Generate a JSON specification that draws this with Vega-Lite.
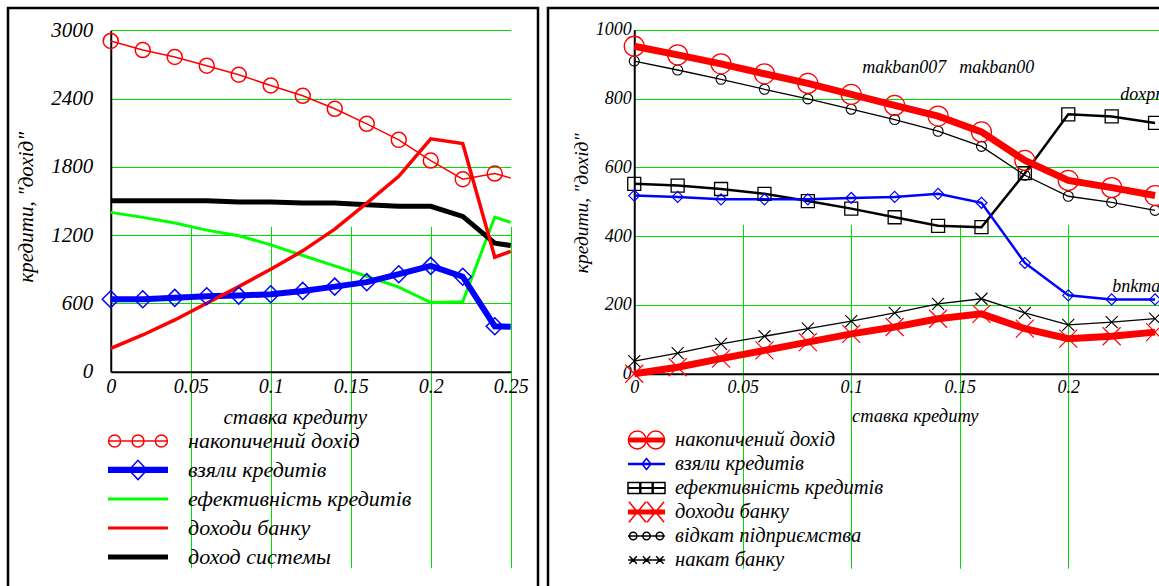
{
  "$schema": "https://vega.github.io/schema/vega-lite/v6.json",
  "padding": {"left": 6, "top": 6, "right": 0, "bottom": 0},
  "background": "white",
  "spacing": 6,
  "config": {
    "view": {"stroke": "black", "strokeWidth": 2.5},
    "axis": {"grid": false, "gridColor": "#00e000", "gridWidth": 1, "gridOpacity": 1, "domainColor": "black", "domainWidth": 2, "ticks": false, "labelFont": "Liberation Serif", "labelFontStyle": "italic", "labelColor": "black", "titleFont": "Liberation Serif", "titleFontStyle": "italic", "titleFontWeight": "normal", "titleColor": "black", "labelFlush": false, "labelOverlap": false},
    "legend": {"orient": "none", "title": null, "direction": "vertical", "padding": 0, "labelFont": "Liberation Serif", "labelFontStyle": "italic", "labelColor": "black", "labelLimit": 500, "symbolOpacity": 1},
    "text": {"font": "Liberation Serif", "fontStyle": "italic"}
  },
  "resolve": {"scale": {"x": "independent", "y": "independent", "color": "independent"}},
  "datasets": {
    "L": [
      {"s": "накопичений дохід", "x": 0, "y": 2906}, {"s": "накопичений дохід", "x": 0.02, "y": 2826}, {"s": "накопичений дохід", "x": 0.04, "y": 2765}, {"s": "накопичений дохід", "x": 0.06, "y": 2689}, {"s": "накопичений дохід", "x": 0.08, "y": 2609}, {"s": "накопичений дохід", "x": 0.1, "y": 2515}, {"s": "накопичений дохід", "x": 0.12, "y": 2424}, {"s": "накопичений дохід", "x": 0.14, "y": 2310}, {"s": "накопичений дохід", "x": 0.16, "y": 2178}, {"s": "накопичений дохід", "x": 0.18, "y": 2037}, {"s": "накопичений дохід", "x": 0.2, "y": 1855}, {"s": "накопичений дохід", "x": 0.22, "y": 1691}, {"s": "накопичений дохід", "x": 0.24, "y": 1741}, {"s": "накопичений дохід", "x": 0.25, "y": 1702},
      {"s": "взяли кредитів", "x": 0, "y": 637}, {"s": "взяли кредитів", "x": 0.02, "y": 637}, {"s": "взяли кредитів", "x": 0.04, "y": 649}, {"s": "взяли кредитів", "x": 0.06, "y": 663}, {"s": "взяли кредитів", "x": 0.08, "y": 669}, {"s": "взяли кредитів", "x": 0.1, "y": 681}, {"s": "взяли кредитів", "x": 0.12, "y": 710}, {"s": "взяли кредитів", "x": 0.14, "y": 748}, {"s": "взяли кредитів", "x": 0.16, "y": 787}, {"s": "взяли кредитів", "x": 0.18, "y": 857}, {"s": "взяли кредитів", "x": 0.2, "y": 930}, {"s": "взяли кредитів", "x": 0.22, "y": 835}, {"s": "взяли кредитів", "x": 0.24, "y": 400}, {"s": "взяли кредитів", "x": 0.25, "y": 396},
      {"s": "ефективність кредитів", "x": 0, "y": 1400}, {"s": "ефективність кредитів", "x": 0.02, "y": 1356}, {"s": "ефективність кредитів", "x": 0.04, "y": 1306}, {"s": "ефективність кредитів", "x": 0.06, "y": 1244}, {"s": "ефективність кредитів", "x": 0.08, "y": 1195}, {"s": "ефективність кредитів", "x": 0.1, "y": 1115}, {"s": "ефективність кредитів", "x": 0.12, "y": 1021}, {"s": "ефективність кредитів", "x": 0.14, "y": 930}, {"s": "ефективність кредитів", "x": 0.16, "y": 839}, {"s": "ефективність кредитів", "x": 0.18, "y": 743}, {"s": "ефективність кредитів", "x": 0.2, "y": 608}, {"s": "ефективність кредитів", "x": 0.22, "y": 616}, {"s": "ефективність кредитів", "x": 0.24, "y": 1359}, {"s": "ефективність кредитів", "x": 0.25, "y": 1312},
      {"s": "доходи банку", "x": 0, "y": 205}, {"s": "доходи банку", "x": 0.02, "y": 323}, {"s": "доходи банку", "x": 0.04, "y": 455}, {"s": "доходи банку", "x": 0.06, "y": 602}, {"s": "доходи банку", "x": 0.08, "y": 748}, {"s": "доходи банку", "x": 0.1, "y": 901}, {"s": "доходи банку", "x": 0.12, "y": 1062}, {"s": "доходи банку", "x": 0.14, "y": 1253}, {"s": "доходи банку", "x": 0.16, "y": 1482}, {"s": "доходи банку", "x": 0.18, "y": 1717}, {"s": "доходи банку", "x": 0.2, "y": 2046}, {"s": "доходи банку", "x": 0.22, "y": 2005}, {"s": "доходи банку", "x": 0.24, "y": 1007}, {"s": "доходи банку", "x": 0.25, "y": 1057},
      {"s": "доход системы", "x": 0, "y": 1503}, {"s": "доход системы", "x": 0.02, "y": 1503}, {"s": "доход системы", "x": 0.04, "y": 1503}, {"s": "доход системы", "x": 0.06, "y": 1503}, {"s": "доход системы", "x": 0.08, "y": 1491}, {"s": "доход системы", "x": 0.1, "y": 1491}, {"s": "доход системы", "x": 0.12, "y": 1482}, {"s": "доход системы", "x": 0.14, "y": 1482}, {"s": "доход системы", "x": 0.16, "y": 1468}, {"s": "доход системы", "x": 0.18, "y": 1453}, {"s": "доход системы", "x": 0.2, "y": 1453}, {"s": "доход системы", "x": 0.22, "y": 1365}, {"s": "доход системы", "x": 0.24, "y": 1130}, {"s": "доход системы", "x": 0.25, "y": 1109}
    ],
    "R": [
      {"s": "накопичений дохід", "x": 0, "y": 952}, {"s": "накопичений дохід", "x": 0.02, "y": 927}, {"s": "накопичений дохід", "x": 0.04, "y": 901}, {"s": "накопичений дохід", "x": 0.06, "y": 872}, {"s": "накопичений дохід", "x": 0.08, "y": 844}, {"s": "накопичений дохід", "x": 0.1, "y": 812}, {"s": "накопичений дохід", "x": 0.12, "y": 780}, {"s": "накопичений дохід", "x": 0.14, "y": 749}, {"s": "накопичений дохід", "x": 0.16, "y": 703}, {"s": "накопичений дохід", "x": 0.18, "y": 620}, {"s": "накопичений дохід", "x": 0.2, "y": 562}, {"s": "накопичений дохід", "x": 0.22, "y": 541}, {"s": "накопичений дохід", "x": 0.24, "y": 518},
      {"s": "взяли кредитів", "x": 0, "y": 518}, {"s": "взяли кредитів", "x": 0.02, "y": 514}, {"s": "взяли кредитів", "x": 0.04, "y": 507}, {"s": "взяли кредитів", "x": 0.06, "y": 507}, {"s": "взяли кредитів", "x": 0.08, "y": 507}, {"s": "взяли кредитів", "x": 0.1, "y": 511}, {"s": "взяли кредитів", "x": 0.12, "y": 514}, {"s": "взяли кредитів", "x": 0.14, "y": 523}, {"s": "взяли кредитів", "x": 0.16, "y": 497}, {"s": "взяли кредитів", "x": 0.18, "y": 322}, {"s": "взяли кредитів", "x": 0.2, "y": 228}, {"s": "взяли кредитів", "x": 0.22, "y": 216}, {"s": "взяли кредитів", "x": 0.24, "y": 216},
      {"s": "ефективність кредитів", "x": 0, "y": 552}, {"s": "ефективність кредитів", "x": 0.02, "y": 547}, {"s": "ефективність кредитів", "x": 0.04, "y": 537}, {"s": "ефективність кредитів", "x": 0.06, "y": 523}, {"s": "ефективність кредитів", "x": 0.08, "y": 502}, {"s": "ефективність кредитів", "x": 0.1, "y": 480}, {"s": "ефективність кредитів", "x": 0.12, "y": 455}, {"s": "ефективність кредитів", "x": 0.14, "y": 430}, {"s": "ефективність кредитів", "x": 0.16, "y": 426}, {"s": "ефективність кредитів", "x": 0.18, "y": 583}, {"s": "ефективність кредитів", "x": 0.2, "y": 754}, {"s": "ефективність кредитів", "x": 0.22, "y": 748}, {"s": "ефективність кредитів", "x": 0.24, "y": 729},
      {"s": "доходи банку", "x": 0, "y": 0}, {"s": "доходи банку", "x": 0.02, "y": 19}, {"s": "доходи банку", "x": 0.04, "y": 44}, {"s": "доходи банку", "x": 0.06, "y": 68}, {"s": "доходи банку", "x": 0.08, "y": 92}, {"s": "доходи банку", "x": 0.1, "y": 116}, {"s": "доходи банку", "x": 0.12, "y": 136}, {"s": "доходи банку", "x": 0.14, "y": 160}, {"s": "доходи банку", "x": 0.16, "y": 174}, {"s": "доходи банку", "x": 0.18, "y": 131}, {"s": "доходи банку", "x": 0.2, "y": 102}, {"s": "доходи банку", "x": 0.22, "y": 109}, {"s": "доходи банку", "x": 0.24, "y": 121},
      {"s": "відкат підприємства", "x": 0, "y": 909}, {"s": "відкат підприємства", "x": 0.02, "y": 883}, {"s": "відкат підприємства", "x": 0.04, "y": 856}, {"s": "відкат підприємства", "x": 0.06, "y": 827}, {"s": "відкат підприємства", "x": 0.08, "y": 799}, {"s": "відкат підприємства", "x": 0.1, "y": 769}, {"s": "відкат підприємства", "x": 0.12, "y": 739}, {"s": "відкат підприємства", "x": 0.14, "y": 705}, {"s": "відкат підприємства", "x": 0.16, "y": 661}, {"s": "відкат підприємства", "x": 0.18, "y": 577}, {"s": "відкат підприємства", "x": 0.2, "y": 516}, {"s": "відкат підприємства", "x": 0.22, "y": 498}, {"s": "відкат підприємства", "x": 0.24, "y": 475},
      {"s": "накат банку", "x": 0, "y": 37}, {"s": "накат банку", "x": 0.02, "y": 60}, {"s": "накат банку", "x": 0.04, "y": 87}, {"s": "накат банку", "x": 0.06, "y": 109}, {"s": "накат банку", "x": 0.08, "y": 131}, {"s": "накат банку", "x": 0.1, "y": 153}, {"s": "накат банку", "x": 0.12, "y": 177}, {"s": "накат банку", "x": 0.14, "y": 203}, {"s": "накат банку", "x": 0.16, "y": 218}, {"s": "накат банку", "x": 0.18, "y": 177}, {"s": "накат банку", "x": 0.2, "y": 142}, {"s": "накат банку", "x": 0.22, "y": 150}, {"s": "накат банку", "x": 0.24, "y": 160}
    ],
    "VM": [{"v": 0.12}, {"v": 0.16}],
    "HM": [{"v": 741}, {"v": 174}],
    "ANN": [
      {"t": "makban007", "x": 0.1051, "y": 889},
      {"t": "makban00", "x": 0.1498, "y": 889},
      {"t": "doxpred", "x": 0.224, "y": 810},
      {"t": "bnkmax", "x": 0.2203, "y": 251}
    ]
  },
  "hconcat": [
    {
      "width": 530,
      "height": 582,
      "data": {"name": "L"},
      "resolve": {"scale": {"x": "independent", "y": "independent"}, "axis": {"x": "independent", "y": "independent"}},
      "layer": [
        {"transform": [{"filter": "datum.s === 'ефективність кредитів'"}], "mark": {"type": "line", "strokeWidth": 3, "color": "#00ff00"},
          "encoding": {
            "x": {"field": "x", "type": "quantitative", "scale": {"domain": [0, 0.25], "range": [102.75, 502.75], "nice": false, "zero": false},
              "axis": {"orient": "bottom", "offset": 0, "values": [0.05, 0.1, 0.15, 0.2, 0.25], "grid": true, "gridColor": "#00e000", "gridWidth": 1, "gridOpacity": 1, "labels": false, "domain": false, "ticks": false, "title": null}},
            "y": {"field": "y", "type": "quantitative", "scale": {"domain": [0, 3000], "range": [363.75, 22.25], "nice": false},
              "axis": {"orient": "left", "offset": 0, "values": [600, 1200, 1800, 2400, 3000], "grid": true, "gridColor": "#00e000", "gridWidth": 1, "gridOpacity": 1, "labels": false, "domain": false, "ticks": false, "title": null}}
          }},
        {
          "encoding": {
            "x": {"field": "x", "type": "quantitative", "scale": {"domain": [0, 0.25], "range": [102.75, 502.75], "nice": false, "zero": false},
              "axis": {"orient": "bottom", "values": [0, 0.05, 0.1, 0.15, 0.2, 0.25], "format": "~g", "offset": -218.25, "grid": false, "labelFontSize": 20, "labelPadding": 5, "title": "ставка кредиту", "titleFontSize": 21, "titleX": 286.75, "titleY": 46, "titleBaseline": "middle", "titleAlign": "center"}},
            "y": {"field": "y", "type": "quantitative", "scale": {"domain": [0, 3000], "range": [363.75, 22.25], "nice": false},
              "axis": {"orient": "left", "values": [0, 600, 1200, 1800, 2400, 3000], "format": "d", "offset": -102.75, "grid": false, "labelFontSize": 21, "labelPadding": 18, "title": "кредити, \"дохід\"", "titleFontSize": 21, "titleX": -84, "titleY": 198.75, "titleAngle": 270, "titleBaseline": "middle", "titleAlign": "center"}}
          },
          "layer": [
            {"transform": [{"filter": "datum.s === 'накопичений дохід'"}], "mark": {"type": "line", "strokeWidth": 1.5},
              "encoding": {"color": {"field": "s", "type": "nominal",
                "scale": {"domain": ["накопичений дохід", "взяли кредитів", "ефективність кредитів", "доходи банку", "доход системы"], "range": ["#ff0000", "#0000ff", "#00ff00", "#ff0000", "#000000"]},
                "legend": {"legendX": 99, "legendY": 418.6, "clipHeight": 28.7, "rowPadding": 0, "symbolSize": 3600, "symbolStrokeWidth": 1.5, "labelFontSize": 22, "labelOffset": 19,
                  "encode": {"symbols": {"update": {"fill": {"value": "transparent"}, "strokeWidth": {"value": 1.5}, "opacity": {"value": 1},
                    "shape": {"signal": "datum.value === 'накопичений дохід' ? 'M-1,0H1M-0.58,0A0.2,0.2,0,1,0,-0.98,0A0.2,0.2,0,1,0,-0.58,0M0.2,0A0.2,0.2,0,1,0,-0.2,0A0.2,0.2,0,1,0,0.2,0M0.98,0A0.2,0.2,0,1,0,0.58,0A0.2,0.2,0,1,0,0.98,0' : datum.value === 'взяли кредитів' ? 'M-1,-0.08H1M-1,-0.04H1M-1,0H1M-1,0.04H1M-1,0.08H1M-0.3,0L0,-0.32L0.3,0L0,0.32Z' : datum.value === 'доход системы' ? 'M-1,-0.06H1M-1,-0.02H1M-1,0.02H1M-1,0.06H1' : 'M-1,-0.025H1M-1,0.025H1'"}}}}}}}},
            {"transform": [{"filter": "datum.s === 'доход системы'"}], "mark": {"type": "line", "strokeWidth": 5, "color": "#000000"}},
            {"transform": [{"filter": "datum.s === 'взяли кредитів'"}], "mark": {"type": "line", "strokeWidth": 6, "color": "#0000ff"}},
            {"transform": [{"filter": "datum.s === 'доходи банку'"}], "mark": {"type": "line", "strokeWidth": 3.5, "color": "#ff0000"}},
            {"transform": [{"filter": "datum.s === 'накопичений дохід' && datum.x < 0.245"}], "mark": {"type": "point", "shape": "circle", "size": 225, "filled": false, "strokeWidth": 1.5, "color": "#ff0000", "opacity": 1}},
            {"transform": [{"filter": "datum.s === 'взяли кредитів' && datum.x < 0.245"}], "mark": {"type": "point", "shape": "diamond", "size": 289, "filled": false, "strokeWidth": 1.5, "color": "#0000ff", "opacity": 1}},
            {"data": {"values": [{}]}, "mark": {"type": "rule", "color": "black", "strokeWidth": 2},
              "encoding": {"x": {"datum": 0.25}, "y": {"datum": 0}, "y2": {"datum": 3000}}}
          ]
        }
      ]
    },
    {
      "width": 616,
      "height": 582,
      "data": {"name": "R"},
      "resolve": {"scale": {"x": "independent", "y": "independent"}, "axis": {"x": "independent", "y": "independent"}},
      "layer": [
        {"transform": [{"filter": "datum.s === 'накат банку'"}], "mark": {"type": "line", "strokeWidth": 1.3, "color": "#000000"},
          "encoding": {
            "x": {"field": "x", "type": "quantitative", "scale": {"domain": [0, 0.2425], "range": [86.25, 612.5], "nice": false, "zero": false},
              "axis": {"orient": "bottom", "offset": 0, "values": [0.05, 0.1, 0.15, 0.2], "grid": true, "gridColor": "#00e000", "gridWidth": 1, "gridOpacity": 1, "labels": false, "domain": false, "ticks": false, "title": null}},
            "y": {"field": "y", "type": "quantitative", "scale": {"domain": [0, 1000], "range": [365.75, 21.75], "nice": false},
              "axis": {"orient": "left", "offset": 0, "values": [200, 400, 600, 800, 1000], "grid": true, "gridColor": "#00e000", "gridWidth": 1, "gridOpacity": 1, "labels": false, "domain": false, "ticks": false, "title": null}}
          }},
        {
          "encoding": {
            "x": {"field": "x", "type": "quantitative", "scale": {"domain": [0, 0.2425], "range": [86.25, 612.5], "nice": false, "zero": false},
              "axis": {"orient": "bottom", "values": [0, 0.05, 0.1, 0.15, 0.2], "format": "~g", "offset": -216.25, "grid": false, "labelFontSize": 18, "labelPadding": 5, "title": "ставка кредиту", "titleFontSize": 18.5, "titleX": 366.75, "titleY": 42, "titleBaseline": "middle", "titleAlign": "center"}},
            "y": {"field": "y", "type": "quantitative", "scale": {"domain": [0, 1000], "range": [365.75, 21.75], "nice": false},
              "axis": {"orient": "left", "values": [0, 200, 400, 600, 800, 1000], "format": "d", "offset": -86.25, "grid": false, "labelFontSize": 18, "labelPadding": 3, "title": "кредити, \"дохід\"", "titleFontSize": 19.5, "titleX": -53, "titleY": 194.75, "titleAngle": 270, "titleBaseline": "middle", "titleAlign": "center"}}
          },
          "layer": [
            {"transform": [{"filter": "datum.s === 'відкат підприємства'"}], "mark": {"type": "line", "strokeWidth": 1.3},
              "encoding": {"color": {"field": "s", "type": "nominal",
                "scale": {"domain": ["накопичений дохід", "взяли кредитів", "ефективність кредитів", "доходи банку", "відкат підприємства", "накат банку"], "range": ["#ff0000", "#0000ff", "#000000", "#ff0000", "#000000", "#000000"]},
                "legend": {"legendX": 79, "legendY": 420, "clipHeight": 24, "rowPadding": 0, "symbolSize": 1369, "symbolStrokeWidth": 1.5, "labelFontSize": 20.5, "labelOffset": 9,
                  "encode": {"symbols": {"update": {"fill": {"value": "transparent"}, "strokeWidth": {"value": 1.5}, "opacity": {"value": 1},
                    "shape": {"signal": "datum.value === 'накопичений дохід' ? 'M-1,-0.1H1M-1,-0.05H1M-1,0H1M-1,0.05H1M-1,0.1H1M-0.02,0A0.48,0.48,0,1,0,-0.98,0A0.48,0.48,0,1,0,-0.02,0M0.98,0A0.48,0.48,0,1,0,0.02,0A0.48,0.48,0,1,0,0.98,0' : datum.value === 'взяли кредитів' ? 'M-1,-0.03H1M-1,0.03H1M-0.24,0L0,-0.3L0.24,0L0,0.3Z' : datum.value === 'ефективність кредитів' ? 'M-1,-0.02H1M-1,0.02H1M-1,-0.3H-0.36V0.3H-1ZM-0.31,-0.3H0.31V0.3H-0.31ZM0.36,-0.3H1V0.3H0.36Z' : datum.value === 'доходи банку' ? 'M-1,-0.1H1M-1,-0.05H1M-1,0H1M-1,0.05H1M-1,0.1H1M-0.95,-0.55L-0.03,0.55M-0.03,-0.55L-0.95,0.55M0.03,-0.55L0.95,0.55M0.95,-0.55L0.03,0.55' : datum.value === 'відкат підприємства' ? 'M-1,0H1M-0.52,0A0.2,0.2,0,1,0,-0.92,0A0.2,0.2,0,1,0,-0.52,0M0.2,0A0.2,0.2,0,1,0,-0.2,0A0.2,0.2,0,1,0,0.2,0M0.92,0A0.2,0.2,0,1,0,0.52,0A0.2,0.2,0,1,0,0.92,0' : 'M-1,0H1M-0.92,-0.2L-0.52,0.2M-0.52,-0.2L-0.92,0.2M-0.2,-0.2L0.2,0.2M0.2,-0.2L-0.2,0.2M0.52,-0.2L0.92,0.2M0.92,-0.2L0.52,0.2'"}}}}}}}},
            {"transform": [{"filter": "datum.s === 'ефективність кредитів'"}], "mark": {"type": "line", "strokeWidth": 2.5, "color": "#000000"}},
            {"transform": [{"filter": "datum.s === 'взяли кредитів'"}], "mark": {"type": "line", "strokeWidth": 2.5, "color": "#0000ff"}},
            {"transform": [{"filter": "datum.s === 'накопичений дохід'"}], "mark": {"type": "line", "strokeWidth": 7, "color": "#ff0000"}},
            {"transform": [{"filter": "datum.s === 'доходи банку'"}], "mark": {"type": "line", "strokeWidth": 7, "color": "#ff0000"}},
            {"data": {"name": "VM"}, "mark": {"type": "rule", "color": "#ff0000", "strokeWidth": 1, "strokeDash": [7, 4]},
              "encoding": {"x": {"field": "v", "type": "quantitative"}, "y": {"datum": 0}, "y2": {"datum": 1000}}},
            {"data": {"name": "HM"}, "mark": {"type": "rule", "color": "#ff0000", "strokeWidth": 1, "strokeDash": [7, 4]},
              "encoding": {"y": {"field": "v", "type": "quantitative"}, "x": {"datum": 0}, "x2": {"datum": 0.2425}}},
            {"transform": [{"filter": "datum.s === 'відкат підприємства'"}], "mark": {"type": "point", "shape": "circle", "size": 100, "filled": false, "strokeWidth": 1.1, "color": "#000000", "opacity": 1}},
            {"transform": [{"filter": "datum.s === 'накат банку'"}], "mark": {"type": "point", "shape": "M-1,-1L1,1M1,-1L-1,1", "size": 144, "filled": false, "strokeWidth": 1.1, "color": "#000000", "opacity": 1}},
            {"transform": [{"filter": "datum.s === 'ефективність кредитів'"}], "mark": {"type": "point", "shape": "square", "size": 169, "filled": false, "strokeWidth": 1.3, "color": "#000000", "opacity": 1}},
            {"transform": [{"filter": "datum.s === 'взяли кредитів'"}], "mark": {"type": "point", "shape": "diamond", "size": 121, "filled": false, "strokeWidth": 1.2, "color": "#0000ff", "opacity": 1}},
            {"transform": [{"filter": "datum.s === 'накопичений дохід'"}], "mark": {"type": "point", "shape": "circle", "size": 400, "filled": false, "strokeWidth": 1.3, "color": "#ff0000", "opacity": 1}},
            {"transform": [{"filter": "datum.s === 'доходи банку'"}], "mark": {"type": "point", "shape": "M-1,-1L1,1M1,-1L-1,1", "size": 324, "filled": false, "strokeWidth": 1.2, "color": "#ff0000", "opacity": 1}},
            {"data": {"name": "ANN"}, "mark": {"type": "text", "align": "left", "baseline": "middle", "fontSize": 18, "color": "black", "clip": true},
              "encoding": {"text": {"field": "t", "type": "nominal"}}}
          ]
        }
      ]
    }
  ]
}
